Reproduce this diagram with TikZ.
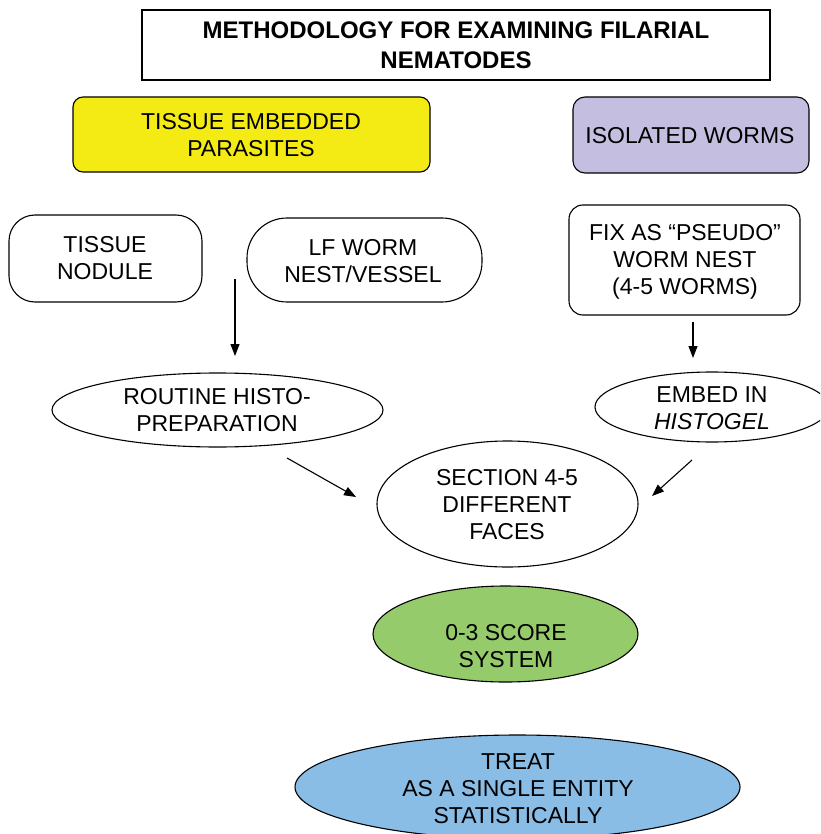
\documentclass[tikz,border=0pt]{standalone}
\usepackage{fontspec}
\setmainfont{Liberation Sans}
\usetikzlibrary{shapes.geometric,arrows.meta}
\definecolor{ylw}{HTML}{F4EA14}
\definecolor{prp}{HTML}{C4BFE0}
\definecolor{grn}{HTML}{95CB6B}
\definecolor{blu}{HTML}{8ABDE6}
\begin{document}
\begin{tikzpicture}[x=1pt,y=-1pt,
  box/.style={draw=black,line width=1.1pt,inner sep=0pt,rectangle},
  oval/.style={draw=black,line width=1.1pt,inner sep=0pt,ellipse},
  txt/.style={align=center,font=\fontsize{23}{27}\selectfont,inner sep=0pt},
  ttl/.style={align=center,font=\fontsize{24}{30}\selectfont\bfseries,inner sep=0pt},
  arr/.style={line width=1.1pt,-{Triangle[length=12pt,width=9pt]}}]
\useasboundingbox (0,0) rectangle (820,834);
\clip (0,0) rectangle (820,834);

% shapes
\node[box,minimum width=628pt,minimum height=70pt] (title) at (456,45) {};
\node[box,rounded corners=10pt,fill=ylw,minimum width=357pt,minimum height=75pt] (tep) at (251.5,134.5) {};
\node[box,rounded corners=12pt,fill=prp,minimum width=236pt,minimum height=76pt] (iso) at (691,135) {};
\node[box,rounded corners=26pt,minimum width=193pt,minimum height=87pt] (nod) at (105.5,258.5) {};
\node[box,rounded corners=40pt,minimum width=235pt,minimum height=84pt] (lf) at (364.5,260) {};
\node[box,rounded corners=14pt,minimum width=231pt,minimum height=110pt] (fix) at (684.5,260) {};
\node[oval,minimum width=331pt,minimum height=74pt] (rout) at (217.5,410) {};
\node[oval,minimum width=234pt,minimum height=70pt] (emb) at (712,407) {};
\node[oval,minimum width=261pt,minimum height=126pt] (sec) at (507.5,504) {};
\node[oval,fill=grn,minimum width=265pt,minimum height=96pt] (score) at (505.5,634) {};
\node[oval,fill=blu,minimum width=445pt,minimum height=104pt] (treat) at (517.5,787) {};

% texts
\node[ttl] (titlet) at (456,45) {METHODOLOGY FOR EXAMINING FILARIAL\\NEMATODES};
\node[txt] (tept) at (251,135) {TISSUE EMBEDDED\\PARASITES};
\node[txt] (isot) at (690,136) {ISOLATED WORMS};
\node[txt] (nodt) at (105,258) {TISSUE\\NODULE};
\node[txt] (lft) at (363,261) {LF WORM\\NEST/VESSEL};
\node[txt] (fixt) at (685,262) {FIX AS “PSEUDO”\\WORM NEST\\(4-5 WORMS)};
\node[txt] (routt) at (217,410) {ROUTINE HISTO-\\PREPARATION};
\node[txt] (embt) at (712,408) {EMBED IN\\\textit{HISTOGEL}};
\node[txt] (sect) at (507,505) {SECTION 4-5\\DIFFERENT\\FACES};
\node[txt] (scoret) at (506,646) {0-3 SCORE\\SYSTEM};
\node[txt] (treatt) at (518,789) {TREAT\\AS A SINGLE ENTITY\\STATISTICALLY};

% arrows
\coordinate (a1s) at (235,279);
\coordinate (a1e) at (235,356);
\coordinate (a2s) at (693,322);
\coordinate (a2e) at (693,358);
\coordinate (a3s) at (287,458);
\coordinate (a3e) at (356,497);
\coordinate (a4s) at (692,460);
\coordinate (a4e) at (652,496);
\draw[arr] (a1s) -- (a1e);
\draw[arr] (a2s) -- (a2e);
\draw[arr] (a3s) -- (a3e);
\draw[arr] (a4s) -- (a4e);
\end{tikzpicture}
\end{document}
